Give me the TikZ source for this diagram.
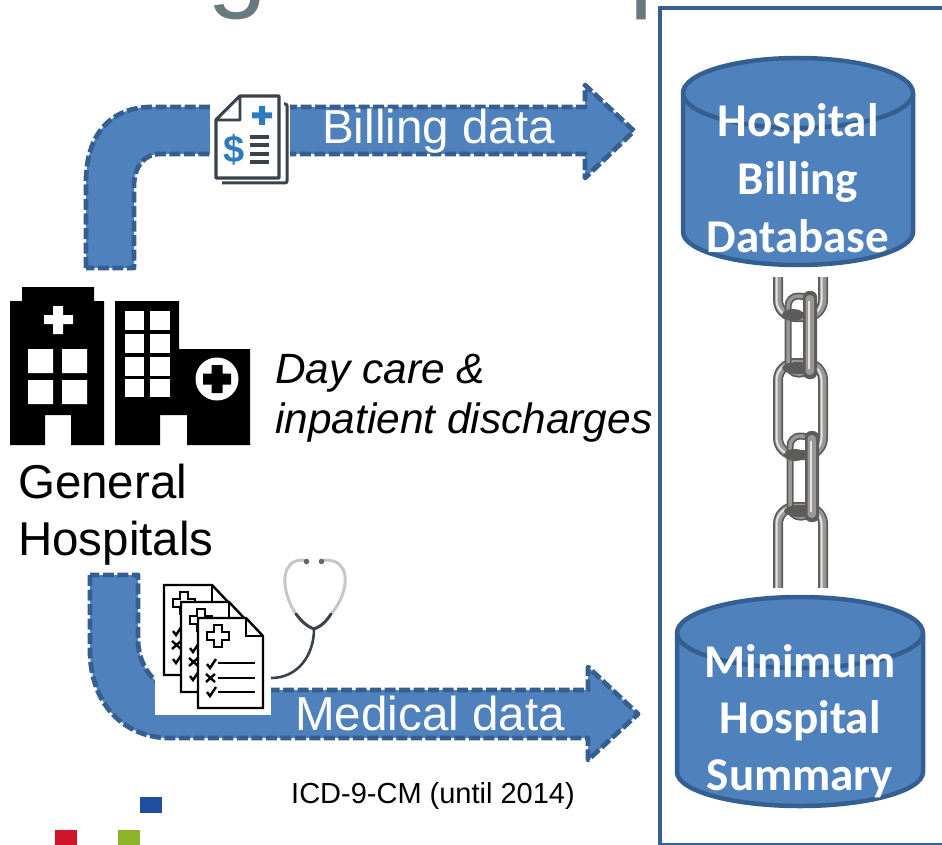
\documentclass[tikz,border=0pt]{standalone}
\usepackage{fontspec}
\setmainfont{Liberation Sans}
\newfontfamily\dbfont{Carlito}
\usetikzlibrary{calc}
\definecolor{arrowfill}{HTML}{4F81BD}
\definecolor{arrowline}{HTML}{365F91}
\definecolor{boxline}{HTML}{36608F}
\definecolor{titlegrey}{HTML}{68797F}
\definecolor{iconink}{HTML}{3A424C}
\definecolor{iconblue}{HTML}{2E7CC0}
\definecolor{sqnavy}{HTML}{1F4E9E}
\definecolor{sqred}{HTML}{D0152B}
\definecolor{sqgreen}{HTML}{8DB32B}
\definecolor{steeldark}{HTML}{5E5C5A}
\definecolor{steelmid}{HTML}{9A9896}
\definecolor{steellight}{HTML}{E4E4E4}
\tikzset{
  flowarrow/.style={fill=arrowfill,draw=arrowline,line width=4.8pt,dash pattern=on 11pt off 3.5pt,line join=round},
  cyl/.style={fill=arrowfill,draw=arrowline,line width=4.5pt},
  cylrim/.style={draw=arrowline,line width=4.5pt},
  dbtext/.style={text=white,font=\dbfont\bfseries\fontsize{47}{47}\selectfont,inner sep=0pt,anchor=base},
  flowlabel/.style={text=white,font=\fontsize{47.6}{47.6}\selectfont,inner sep=0pt,anchor=base west},
  bigtext/.style={text=black,font=\fontsize{47.5}{47.5}\selectfont,inner sep=0pt,anchor=base west},
  ittext/.style={text=black,font=\itshape\fontsize{42.4}{42.4}\selectfont,inner sep=0pt,anchor=base west},
  titletext/.style={text=titlegrey,font=\fontsize{108}{108}\selectfont,inner sep=0pt,anchor=base west},
  sheet/.style={fill=white,draw=black,line width=2.4pt,line join=miter},
  sheetline/.style={draw=black,line width=2.4pt},
}
\begin{document}
\begin{tikzpicture}[x=1pt,y=-1pt]
\useasboundingbox (0,0) rectangle (942,845);
% title remnants
\node[titletext] (titleg) at (207,-2) {g};
\node[titletext] (titlep) at (629,-2) {p};
% outer box
\draw[boxline,line width=4.5pt] (942,8) -- (660,8) -- (660,845);
\draw[boxline,line width=2pt] (660,844) -- (942,844);
% top arrow
\draw[flowarrow] (86,268) -- (86,182) .. controls (86,135) and (110,107) .. (152,107)
  -- (585,107) -- (585,85) -- (634,131) -- (585,178) -- (585,154)
  -- (160,154) .. controls (143,154) and (134,168) .. (134,186) -- (134,268) -- cycle;
% bottom arrow
\draw[flowarrow] (90,575) -- (90,650) .. controls (90,705) and (125,738) .. (170,738)
  -- (588,738) -- (588,760) -- (638,714) -- (588,667) -- (588,690)
  -- (180,690) .. controls (155,690) and (138,665) .. (138,640) -- (138,575) -- cycle;
% billing icon
\fill[white] (210,93) rectangle (290,187);
\draw[iconink,line width=3pt,rounded corners=2pt] (284,104) -- (287,104) -- (287,183) -- (222,183);
\draw[iconink,line width=3.2pt,line join=round,fill=white] (240,96) -- (279,96) -- (279,178) -- (216,178) -- (216,120) -- cycle;
\draw[iconink,line width=2.6pt,fill=white,line join=round] (240,96) -- (240,120) -- (216,120) -- cycle;
\fill[iconblue] (259,106) rectangle (265,125) (252,112.5) rectangle (272,118.5);
\node[text=iconblue,font=\bfseries\fontsize{38}{38}\selectfont,inner sep=0pt] (dollar) at (234,150) {\$};
\foreach \yy in {137,145,154,162}{\fill[iconink] (250,\yy-1.8) rectangle (269,\yy+1.8);}
% labels on arrows
\node[flowlabel] (billing) at (322,144) {Billing data};
% hospital
\fill[black] (22,287) -- (94,287) -- (94,301) -- (104,301) -- (104,445) -- (71,445) -- (71,415) -- (45,415) -- (45,445) -- (10,445) -- (10,301) -- (22,301) -- cycle;
\fill[black] (115,301) -- (179,301) -- (179,349) -- (250,349) -- (250,445) -- (187,445) -- (187,415) -- (160,415) -- (160,445) -- (115,445) -- cycle;
\fill[white] (53,306) rectangle (63,334) (44,315) rectangle (73,324);
\fill[white] (28,349) rectangle (53,373) (62,349) rectangle (87,373) (28,380) rectangle (53,404) (62,380) rectangle (87,404);
\foreach \xa/\xb in {125/144,150/170}{\foreach \ya/\yb in {311/330,334/353,357/376,379/397}{\fill[white] (\xa,\ya) rectangle (\xb,\yb);}}
\fill[white] (217,379) circle[radius=21.5];
\fill[black] (211.5,365) rectangle (222.5,393) (203,373.5) rectangle (231,384.5);
% texts
\node[ittext] (daycare) at (275,383) {Day care \&};
\node[ittext] (inpatient) at (275,433) {inpatient discharges};
\node[bigtext] (general) at (18,498) {General};
\node[bigtext] (hospitals) at (18,555) {Hospitals};
% stethoscope
\draw[gray!45,line width=3pt,line cap=round] (296,614) .. controls (286,600) and (280,575) .. (290,565) .. controls (293,561) and (298,560) .. (304,560);
\draw[gray!45,line width=3pt,line cap=round] (331,614) .. controls (345,598) and (350,575) .. (340,565) .. controls (336,561) and (331,560) .. (324,560);
\fill[iconink!80] (306.5,561.5) circle[radius=2.8] (321.5,561.5) circle[radius=2.8];
% document patch
\fill[white] (155,575) rectangle (271,715);
\draw[iconink,line width=3pt,line cap=round] (296,614) .. controls (302,622) and (308,627) .. (314,629) .. controls (320,627) and (326,622) .. (331,614);
\draw[iconink,line width=2.6pt] (314,629) .. controls (314,655) and (298,678) .. (271,678);
% documents
\foreach \dx/\dy in {164/585,181/602,198/618}{
  \begin{scope}[shift={(\dx,\dy)}]
    \draw[sheet] (0,0) -- (48,0) -- (65,18) -- (65,90) -- (0,90) -- cycle;
    \draw[sheetline] (48,0) -- (48,18) -- (65,18);
    \draw[sheetline] (16,7) -- (24,7) -- (24,14) -- (31,14) -- (31,22) -- (24,22) -- (24,29) -- (16,29) -- (16,22) -- (9,22) -- (9,14) -- (16,14) -- cycle;
    \draw[sheetline] (9,46) -- (12,50) -- (18,41);
    \draw[sheetline] (20,45) -- (57,45);
    \draw[sheetline] (8,56) -- (17,64) (17,56) -- (8,64);
    \draw[sheetline] (20,60) -- (57,60);
    \draw[sheetline] (9,74) -- (12,78) -- (18,69);
    \draw[sheetline] (20,74) -- (57,74);
  \end{scope}
}
\node[flowlabel] (medical) at (295,730) {Medical data};
\node[text=black,font=\fontsize{29}{29}\selectfont,inner sep=0pt,anchor=base west] (icd) at (291,803) {ICD-9-CM (until 2014)};
% squares
\fill[sqnavy] (140,797) rectangle (162,813);
\fill[sqred] (55,830) rectangle (77,845);
\fill[sqgreen] (118,830) rectangle (140,845);
% chain
\begin{scope}
\clip (765,277) rectangle (835,587);
\foreach \ya/\yb in {240/317,363/455,507/610}{
  \draw[steeldark,line width=10pt,rounded corners=17pt] (778,\ya) rectangle (823,\yb);
  \draw[steelmid,line width=6.5pt,rounded corners=17pt] (778,\ya) rectangle (823,\yb);
  \draw[steellight,line width=2pt,rounded corners=17pt] (776.5,\ya) rectangle (821.5,\yb);
}
\foreach \xa/\xb/\ya/\yb in {785/818/293/377, 787/820/433/520}{
  \draw[steeldark,line width=7pt,rounded corners=10pt] (\xa+3,\ya+3) rectangle (\xb-8,\yb-3);
  \draw[steelmid,line width=3.5pt,rounded corners=10pt] (\xa+3,\ya+3) rectangle (\xb-8,\yb-3);
  \fill[steeldark] (\xa+8,\ya+22) ellipse[x radius=11,y radius=6];
  \fill[steeldark] (\xa+13,\yb-9) ellipse[x radius=16,y radius=6];
  \fill[steeldark,rounded corners=6pt] (\xb-15,\ya-2) rectangle (\xb-1,\yb+2);
  \fill[steelmid,rounded corners=4pt] (\xb-12.5,\ya+2) rectangle (\xb-4,\yb-2);
  \draw[steellight,line width=2pt] (\xb-9,\ya+8) -- (\xb-9,\yb-8);
}
\end{scope}
% databases
\draw[cyl] (683,93) -- (683,232) arc[start angle=180,end angle=0,x radius=115,y radius=33] -- (913,93) arc[start angle=0,end angle=-180,x radius=115,y radius=35] -- cycle;
\draw[cylrim] (683,93) arc[start angle=180,end angle=0,x radius=115,y radius=35];
\node[dbtext] (hb1) at (798,137) {Hospital};
\node[dbtext] (hb2) at (798,195) {Billing};
\node[dbtext] (hb3) at (798,252) {Database};
\draw[cyl] (677,633) -- (677,772) arc[start angle=180,end angle=0,x radius=123,y radius=34] -- (923,633) arc[start angle=0,end angle=-180,x radius=123,y radius=36] -- cycle;
\draw[cylrim] (677,633) arc[start angle=180,end angle=0,x radius=123,y radius=35];
\node[dbtext] (ms1) at (800,677) {Minimum};
\node[dbtext] (ms2) at (800,733) {Hospital};
\node[dbtext] (ms3) at (800,790) {Summary};
\end{tikzpicture}
\end{document}
